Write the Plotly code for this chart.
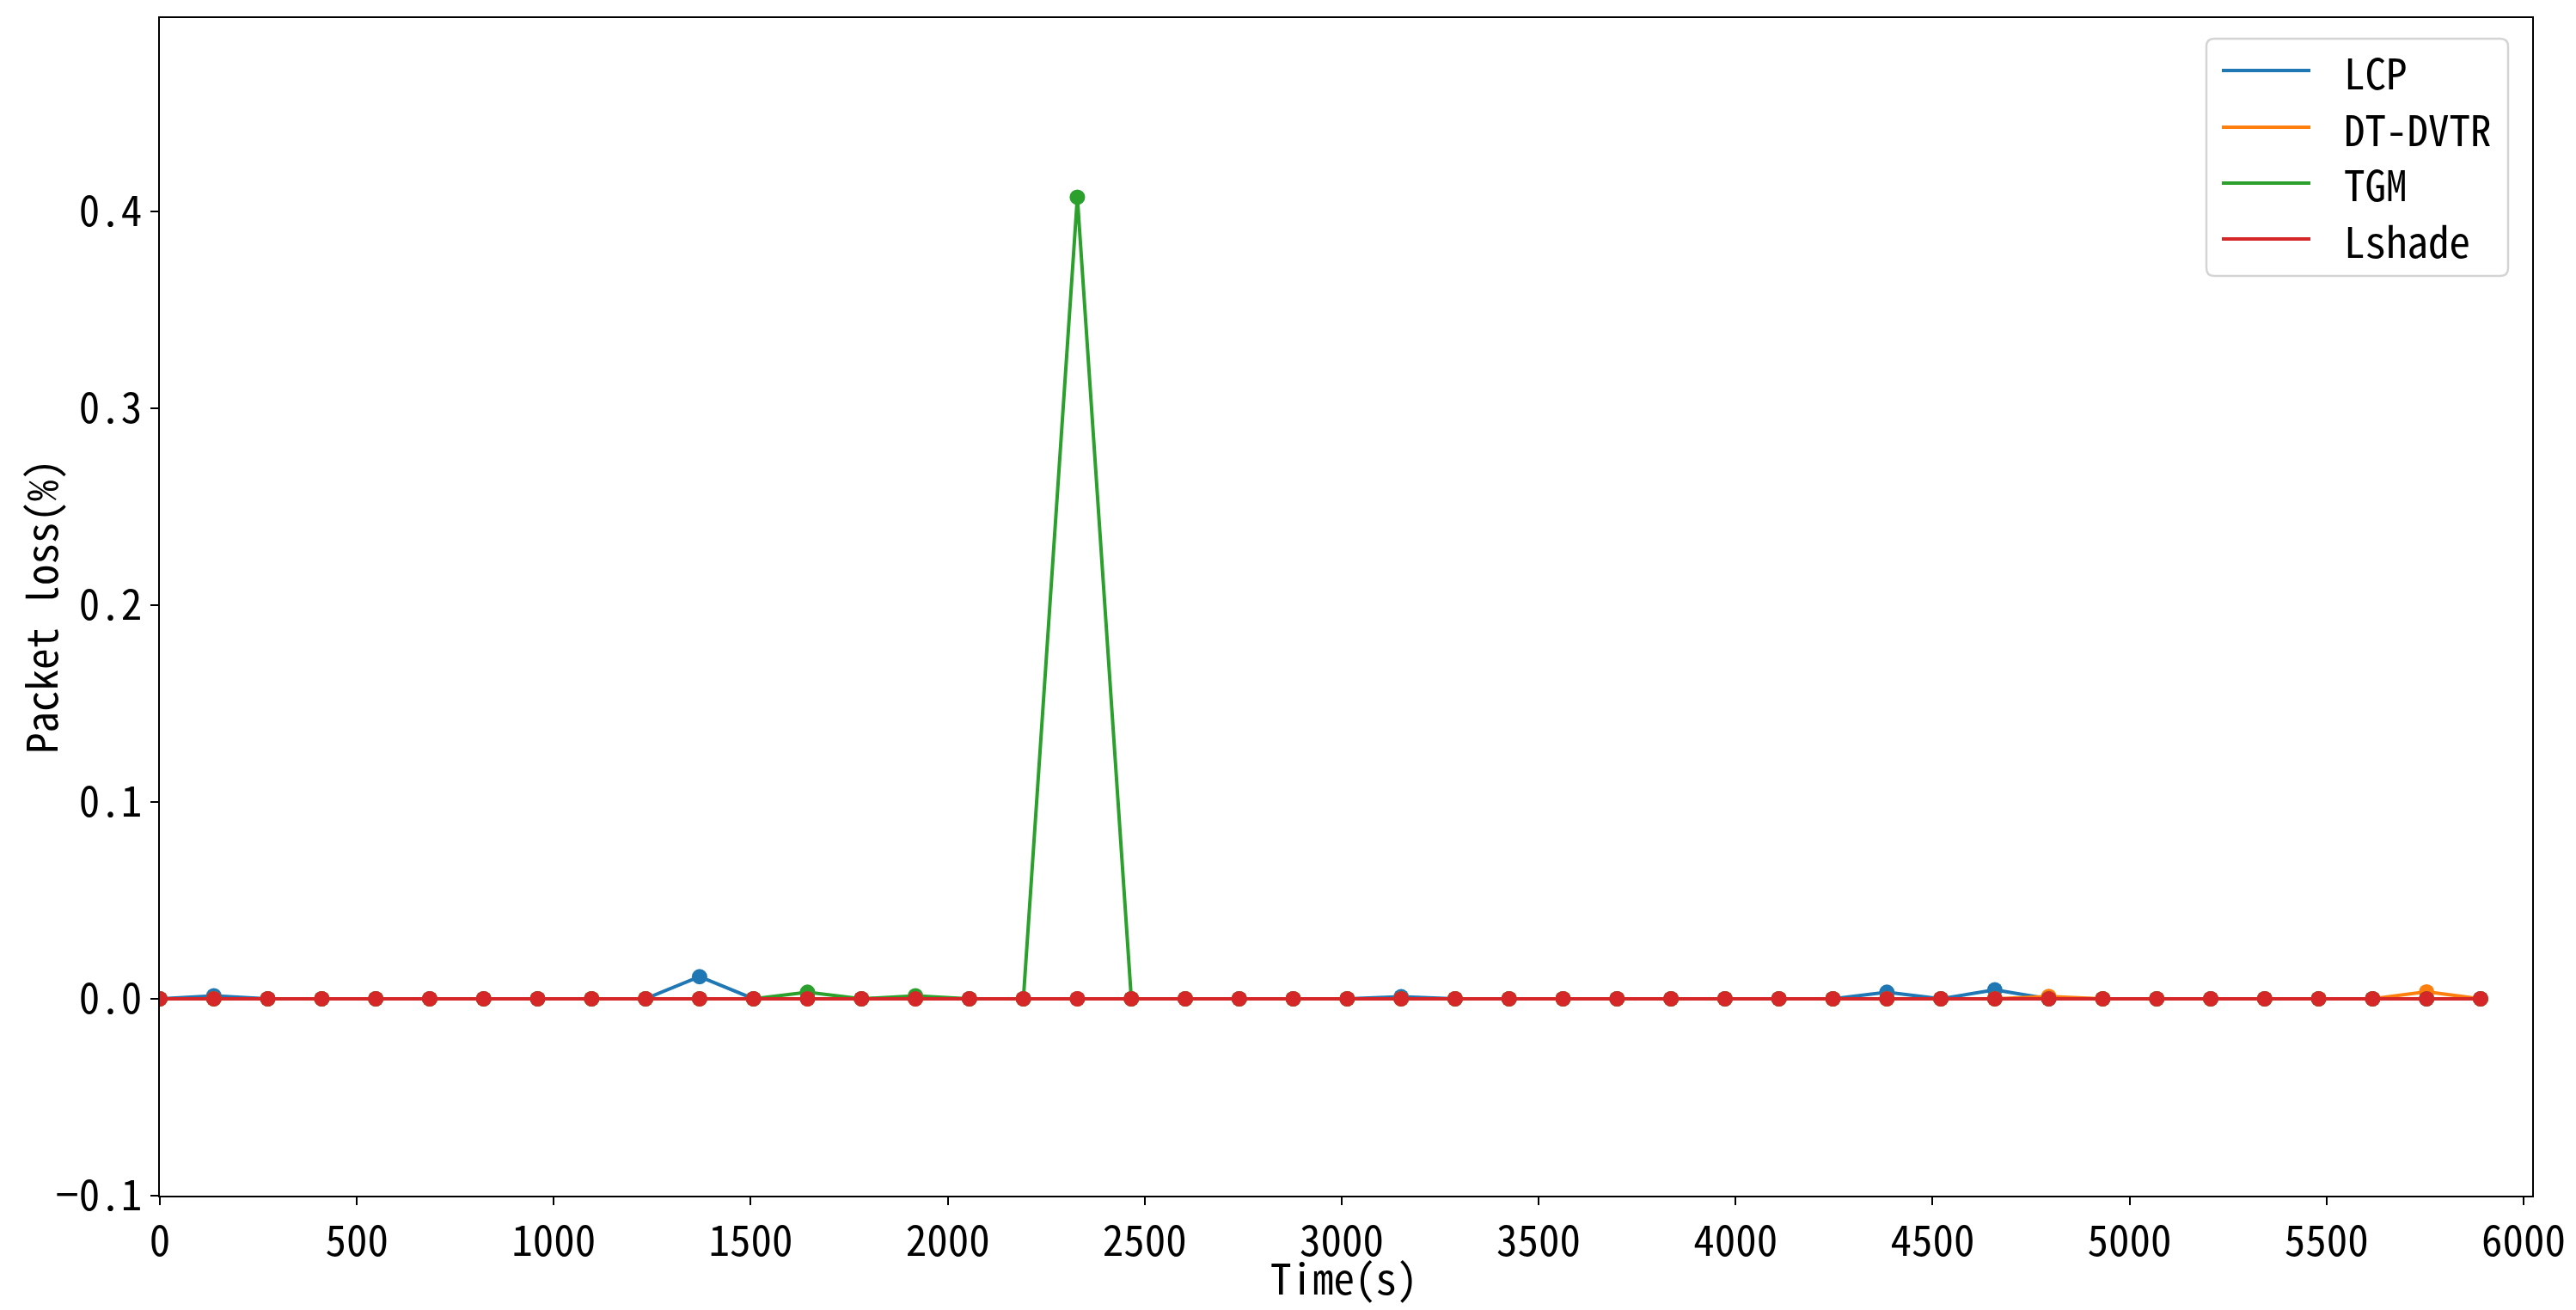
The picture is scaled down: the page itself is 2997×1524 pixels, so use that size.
import plotly.graph_objects as go

# Time samples (s)
time_s = [0, 137, 274, 411, 548, 685, 822, 959, 1096, 1233, 1370, 1507, 1644, 1781,
          1918, 2055, 2192, 2329, 2466, 2603, 2740, 2877, 3014, 3151, 3288, 3425,
          3562, 3699, 3836, 3973, 4110, 4247, 4384, 4521, 4658, 4795, 4932, 5069,
          5206, 5343, 5480, 5617, 5754, 5891]

lcp = [0, 0.0015, 0, 0, 0, 0, 0, 0, 0, 0, 0.0112, 0, 0, 0,
       0, 0, 0, 0, 0, 0, 0, 0, 0, 0.001, 0, 0,
       0, 0, 0, 0, 0, 0, 0.0033, 0, 0.0045, 0, 0, 0,
       0, 0, 0, 0, 0, 0]

dt_dvtr = [0, 0, 0, 0, 0, 0, 0, 0, 0, 0, 0, 0, 0, 0,
           0, 0, 0, 0, 0, 0, 0, 0, 0, 0, 0, 0,
           0, 0, 0, 0, 0, 0, 0, 0, 0, 0.0012, 0, 0,
           0, 0, 0, 0, 0.0035, 0]

tgm = [0, 0, 0, 0, 0, 0, 0, 0, 0, 0, 0, 0, 0.0033, 0,
       0.0015, 0, 0, 0.407, 0, 0, 0, 0, 0, 0, 0, 0,
       0, 0, 0, 0, 0, 0, 0, 0, 0, 0, 0, 0,
       0, 0, 0, 0, 0, 0]

lshade = [0] * 44

series_names = ["LCP", "DT-DVTR", "TGM", "Lshade"]
series_values = [lcp, dt_dvtr, tgm, lshade]
series_colors = ["#1f77b4", "#ff7f0e", "#2ca02c", "#d62728"]

y_ticks = [-0.1, 0.0, 0.1, 0.2, 0.3, 0.4]
x_ticks = [0, 500, 1000, 1500, 2000, 2500, 3000, 3500, 4000, 4500, 5000, 5500, 6000]

FONT = "Noto Sans Mono CJK SC, Noto Sans Mono CJK JP, Liberation Mono, DejaVu Sans Mono, monospace"
FS = 49

W, H = 2997, 1524
OFF = 8  # page body margin
# target plot area in screenshot pixels
PL, PR, PT, PB = 186, 2946, 21, 1391
L = PL - OFF
T = PT - OFF
R = (W + OFF) - PR
B = (H + OFF) - PB
PW, PH = PR - PL, PB - PT


def px2x(px):
    return (px - PL) / PW


def px2y(py):
    return (PB - py) / PH


fig = go.Figure()
for name, vals, col in zip(series_names, series_values, series_colors):
    fig.add_trace(go.Scatter(
        x=time_s, y=vals, mode="lines+markers", name=name,
        line=dict(color=col, width=4),
        marker=dict(color=col, size=18),
        showlegend=False,
    ))

axis_common = dict(
    showline=True, linecolor="black", linewidth=2, mirror=True,
    ticks="outside", ticklen=9, tickwidth=1.5, tickcolor="black",
    showgrid=False, zeroline=False, automargin=False,
    tickfont=dict(family=FONT, size=FS, color="black"),
)

shapes = []
annotations = []

# legend box (rounded)
bx0, by0, bx1, by1, rr = 2567, 45, 2918, 321, 9
rx, ry = rr / PW, rr / PH
X0, X1 = px2x(bx0), px2x(bx1)
Y0, Y1 = px2y(by1), px2y(by0)
path = (f"M {X0+rx},{Y0} L {X1-rx},{Y0} Q {X1},{Y0} {X1},{Y0+ry} "
        f"L {X1},{Y1-ry} Q {X1},{Y1} {X1-rx},{Y1} L {X0+rx},{Y1} "
        f"Q {X0},{Y1} {X0},{Y1-ry} L {X0},{Y0+ry} Q {X0},{Y0} {X0+rx},{Y0} Z")
shapes.append(dict(type="path", path=path, xref="paper", yref="paper",
                   line=dict(color="#d4d4d4", width=2.5),
                   fillcolor="rgba(255,255,255,0.8)", layer="above"))
row_y = [82, 148, 213, 278]
for name, col, ry_ in zip(series_names, series_colors, row_y):
    shapes.append(dict(type="line", xref="paper", yref="paper",
                       x0=px2x(2585), x1=px2x(2688), y0=px2y(ry_), y1=px2y(ry_),
                       line=dict(color=col, width=4), layer="above"))
    annotations.append(dict(text=name, xref="paper", yref="paper",
                            x=px2x(2725), y=px2y(ry_), xanchor="left", yanchor="middle",
                            showarrow=False, font=dict(family=FONT, size=FS, color="black")))

# axis titles
annotations.append(dict(text="Time(s)", xref="paper", yref="paper",
                        x=px2x(1564), y=px2y(1484), xanchor="center", yanchor="middle",
                        showarrow=False, font=dict(family=FONT, size=FS, color="black")))
annotations.append(dict(text="Packet loss(%)", xref="paper", yref="paper",
                        x=px2x(45), y=px2y(706), xanchor="center", yanchor="middle",
                        textangle=-90, showarrow=False,
                        font=dict(family=FONT, size=FS, color="black")))

fig.update_layout(
    width=W, height=H,
    margin=dict(l=L, r=R, t=T, b=B),
    paper_bgcolor="white", plot_bgcolor="white",
    font=dict(family=FONT, size=FS, color="black"),
    xaxis=dict(range=[0, 6022], tickvals=x_ticks, **axis_common),
    yaxis=dict(range=[-0.1, 0.498], tickvals=y_ticks, tickformat=".1f", **axis_common),
    showlegend=False,
    shapes=shapes,
    annotations=annotations,
)

fig.write_html("out.html")
